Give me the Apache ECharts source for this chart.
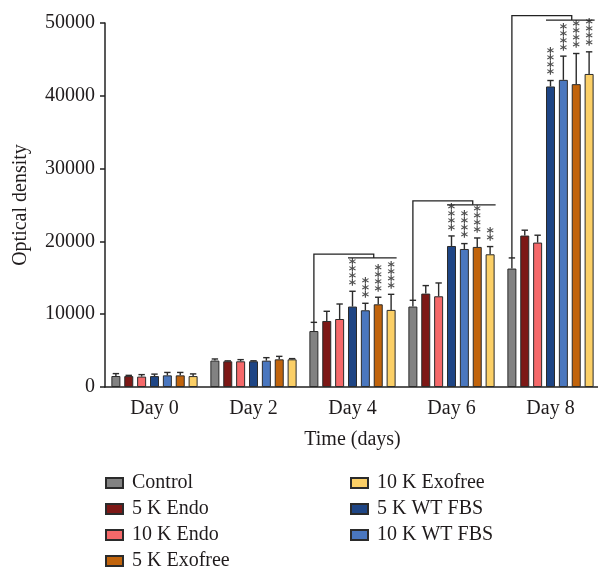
<!DOCTYPE html>
<html>
<head>
<meta charset="utf-8">
<script src="https://cdn.jsdelivr.net/npm/echarts@6/dist/echarts.min.js"></script>
<style>html,body{margin:0;padding:0;background:#fff;}#c{width:598px;height:571px;}</style>
</head>
<body>
<div id="c"></div>
<script>
const days = ['Day 0', 'Day 2', 'Day 4', 'Day 6', 'Day 8'];
const seriesNames = ['Control', '5 K Endo', '10 K Endo', '5 K WT FBS', '10 K WT FBS', '5 K Exofree', '10 K Exofree'];
const legendCol1 = ['Control', '5 K Endo', '10 K Endo', '5 K Exofree'];
const legendCol2 = ['10 K Exofree', '5 K WT FBS', '10 K WT FBS'];

const control      = [1510, 3630, 7690, 11050, 16270];
const controlSd    = [330, 220, 1190, 860, 1460];
const endo5k       = [1500, 3530, 9070, 12830, 20800];
const endo5kSd     = [100, 60, 1330, 1100, 740];
const endo10k      = [1430, 3530, 9340, 12460, 19840];
const endo10kSd    = [270, 230, 2060, 1830, 1010];
const wtfbs5k      = [1500, 3530, 11050, 19370, 41280];
const wtfbs5kSd    = [270, 70, 2100, 1380, 820];
const wtfbs10k     = [1600, 3620, 10540, 18960, 42190];
const wtfbs10kSd   = [400, 410, 960, 740, 3260];
const exofree5k    = [1600, 3800, 11360, 19240, 41600];
const exofree5kSd  = [400, 410, 970, 1230, 4210];
const exofree10k   = [1500, 3800, 10590, 18230, 43000];
const exofree10kSd = [300, 100, 2140, 1060, 3040];

const starsNone       = ['', '', '', '', ''];
const stars5kWt       = ['', '', '****', '****', '****'];
const stars10kWt      = ['', '', '***', '****', '****'];
const stars5kExo      = ['', '', '****', '****', '****'];
const stars10kExo     = ['', '', '****', '**', '****'];

const bracketDays   = [2, 3, 4];
const bracketLevel1 = [18240, 25570, 51000];
const bracketLevel2 = [17730, 25020, 50400];

const colors = ['#828282', '#7d1816', '#f5696a', '#1e4585', '#4a77bf', '#c1640c', '#fbcf66'];
const values = [control, endo5k, endo10k, wtfbs5k, wtfbs10k, exofree5k, exofree10k];
const sds = [controlSd, endo5kSd, endo10kSd, wtfbs5kSd, wtfbs10kSd, exofree5kSd, exofree10kSd];
const stars = [starsNone, starsNone, starsNone, stars5kWt, stars10kWt, stars5kExo, stars10kExo];

const FONT = 'Liberation Serif';
const FS = 20;
const TXT = '#1f1b1c';
const BAR_W = 9;
const BAR_GAP = 0.43;
const STEP = BAR_W * (1 + BAR_GAP);

const series = [];
seriesNames.forEach((name, i) => {
  series.push({
    name: name,
    type: 'bar',
    data: values[i],
    barWidth: BAR_W,
    barGap: (BAR_GAP * 100) + '%',
    itemStyle: { color: colors[i], borderColor: '#2b2b2b', borderWidth: 1 },
    emphasis: { disabled: true },
    z: 2
  });
});

seriesNames.forEach((name, i) => {
  const off = (i - 3) * STEP;
  series.push({
    type: 'custom',
    z: 3,
    silent: true,
    clip: false,
    data: values[i].map((v, d) => [d, v, sds[i][d]]),
    renderItem: function (params, api) {
      const d = api.value(0), v = api.value(1), sd = api.value(2);
      const st = stars[i][d];
      const p0 = api.coord([d, v]);
      const p1 = api.coord([d, v + sd]);
      const x = p0[0] + off;
      const children = [
        { type: 'line', shape: { x1: x, y1: p0[1], x2: x, y2: p1[1] }, style: { stroke: '#2b2b2b', lineWidth: 1.4 } },
        { type: 'line', shape: { x1: x - 3.2, y1: p1[1], x2: x + 3.2, y2: p1[1] }, style: { stroke: '#2b2b2b', lineWidth: 1.4 } }
      ];
      if (st) {
        const n = st.length;
        for (let k = 0; k < n; k++) {
          children.push({
            type: 'text',
            style: {
              text: '*', x: x, y: p1[1] + 1 - k * 7,
              font: 'bold 14px "DejaVu Sans"', fill: '#505050', align: 'center', verticalAlign: 'bottom'
            }
          });
        }
      }
      return { type: 'group', children: children };
    }
  });
});

series.push({
  type: 'custom',
  z: 3,
  silent: true,
  clip: false,
  data: bracketDays.map((d, k) => [d, bracketLevel1[k], bracketLevel2[k], control[d] + controlSd[d]]),
  renderItem: function (params, api) {
    const d = api.value(0);
    const y1 = api.coord([d, api.value(1)])[1];
    const y2 = api.coord([d, api.value(2)])[1];
    const yc = api.coord([d, api.value(3)])[1];
    const cx = api.coord([d, 0])[0];
    const xc = cx - 3 * STEP;
    const xm = cx + 1.65 * STEP;
    const xl = cx - BAR_W / 2;
    const xr = cx + 3 * STEP + BAR_W / 2 + 1;
    const st = { stroke: '#222', lineWidth: 1.3, fill: null };
    return {
      type: 'group',
      children: [
        { type: 'polyline', shape: { points: [[xc, yc], [xc, y1], [xm, y1], [xm, y2]] }, style: st },
        { type: 'line', shape: { x1: xl, y1: y2, x2: xr, y2: y2 }, style: st }
      ]
    };
  }
});

const legendBase = {
  orient: 'vertical',
  top: 473,
  itemWidth: 17,
  itemHeight: 10,
  itemGap: 6,
  padding: 0,
  icon: 'rect',
  selectedMode: false,
  textStyle: { fontFamily: FONT, fontSize: FS, lineHeight: 20, color: TXT, padding: [0, 0, 0, 4] }
};

const option = {
  animation: false,
  backgroundColor: '#fff',
  grid: { left: 105, top: 23, width: 495, height: 364, outerBoundsMode: 'none' },
  legend: [
    Object.assign({}, legendBase, { left: 105, data: legendCol1 }),
    Object.assign({}, legendBase, { left: 350, data: legendCol2 })
  ],
  xAxis: {
    type: 'category',
    data: days,
    name: 'Time (days)',
    nameLocation: 'middle',
    nameGap: 43,
    nameTextStyle: { fontFamily: FONT, fontSize: FS, color: TXT },
    axisLine: { lineStyle: { color: '#222', width: 1.5 } },
    axisTick: { alignWithLabel: true, length: 5, lineStyle: { color: '#222', width: 1.5 } },
    axisLabel: { fontFamily: FONT, fontSize: FS, color: TXT, margin: 12 }
  },
  yAxis: {
    type: 'value',
    min: 0,
    max: 50000,
    interval: 10000,
    name: 'Optical density',
    nameLocation: 'middle',
    nameGap: 74,
    nameTextStyle: { fontFamily: FONT, fontSize: FS, color: TXT },
    splitLine: { show: false },
    axisLine: { show: true, lineStyle: { color: '#222', width: 1.5 } },
    axisTick: { show: true, length: 5, lineStyle: { color: '#222', width: 1.5 } },
    axisLabel: { fontFamily: FONT, fontSize: FS, color: TXT, margin: 10, formatter: function (v) { return String(v); } }
  },
  series: series
};

const chart = echarts.init(document.getElementById('c'), null, { renderer: 'canvas' });
chart.setOption(option);
</script>
</body>
</html>
